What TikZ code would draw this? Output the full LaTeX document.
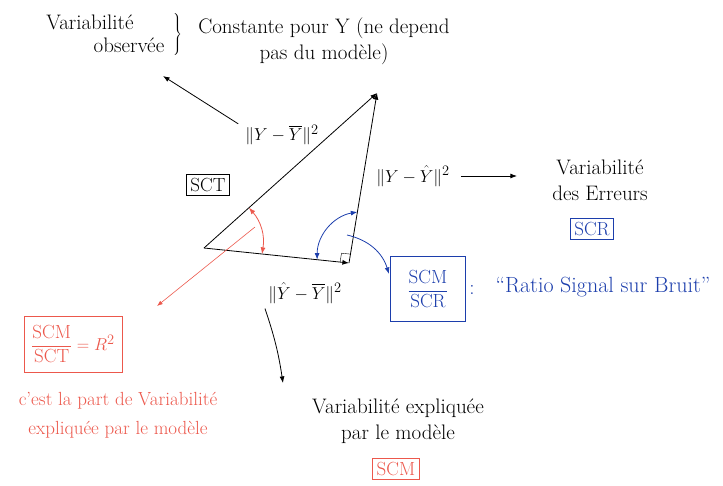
\documentclass[tikz,border=0pt]{standalone}
\usepackage{amsmath,amssymb}
\usepackage{tikz}
\usepackage{xcolor}
\usetikzlibrary{arrows.meta,positioning,calc}
\definecolor{penred}{RGB}{236,88,76}
\definecolor{penblue}{RGB}{28,62,172}

\begin{document}
\begin{tikzpicture}[
  x=1pt, y=-1pt,
  note/.style={font=\fontsize{21}{26}\selectfont, align=center, inner sep=1pt},
  small note/.style={note, font=\fontsize{19}{29}\selectfont},
  formula/.style={font=\fontsize{19}{23}\selectfont, inner sep=1pt},
  tag/.style={draw, thick, font=\fontsize{19}{23}\selectfont, inner sep=4pt},
  arrow/.style={-Latex, thick},
  twoway/.style={Latex-Latex, thick}
]
\useasboundingbox (0,0) rectangle (723,485);
% triangle of the three vectors
\coordinate (L) at (204,248);
\coordinate (T) at (377,93);
\coordinate (R) at (349,263);
\draw[arrow] (L) -- (T);
\draw[arrow] (L) -- (R);
\draw[arrow] (R) -- (T);
\draw[thin] ($(R)!9pt!(L)$) -- ($($(R)!9pt!(L)$)+($(R)!9pt!(T)$)-(R)$) -- ($(R)!9pt!(T)$);

% labels of the sides
\node[formula] (tot) at (282,135) {$\|Y-\overline{Y}\|^2$};
\node[tag] (sct) at (208,185) {SCT};
\node[formula] (res) at (413,176) {$\|Y-\hat{Y}\|^2$};
\node[formula] (mod) at (305,293) {$\|\hat{Y}-\overline{Y}\|^2$};

% top texts
\node[note] (obs) at (90,22) {Variabilité};
\node[note] (obs2) at (129,45) {observée};
\node[inner sep=0pt] (brace) at (177,35) {$\left.\vrule width 0pt height 19pt depth 19pt\right\}$};
\node[note] (const) at (324,41) {Constante pour Y (ne depend\\pas du modèle)};
\coordinate (obsend) at (163,76);
\draw[arrow] ([xshift=-6pt]tot.north west) -- (obsend);

% errors
\node[note] (err) at (600,180) {Variabilité\\des Erreurs};
\node[tag, penblue] (scr) at (592,229) {SCR};
\coordinate (resend) at (517,176);
\draw[arrow] ([xshift=10pt]res.east) -- (resend);

% ratio signal / noise
\node[tag, penblue, minimum width=75pt, minimum height=65pt] (snr) at (428,289)
  {$\dfrac{\text{SCM}}{\text{SCR}}$};
\node[note, penblue] (colon) at (472,290) {:};
\node[note, penblue, font=\fontsize{22}{26}\selectfont] (snrtxt) at (603,287) {``Ratio Signal sur Bruit''};
\coordinate (b1) at ($(R)!0.22!(L)$);
\coordinate (b2) at ($(R)!0.3!(T)$);
\draw[twoway, penblue] (b1) to[bend left=40] (b2);
\coordinate (bs) at (347,235);
\coordinate (be) at (389,274);
\draw[arrow, penblue] (bs) to[bend left=30] (be);

% explained part
\coordinate (a1) at ($(L)!0.26!(T)$);
\coordinate (a2) at ($(L)!0.4!(R)$);
\draw[twoway, penred] (a1) to[bend left=25] (a2);
\node[tag, penred, minimum width=98pt, minimum height=56pt] (rsq) at (73,344)
  {$\dfrac{\text{SCM}}{\text{SCT}}=R^2$};
\coordinate (rs) at (255,227);
\coordinate (re) at (157,306);
\draw[arrow, penred, semithick] (rs) -- (re);
\node[small note, penred] (part) at (118,415) {c'est la part de Variabilité\\expliquée par le modèle};

\node[note] (expl) at (398,421) {Variabilité expliquée\\par le modèle};
\node[tag, penred] (scm) at (396,469) {SCM};
\coordinate (me) at (283,383);
\draw[arrow] ([xshift=-40pt,yshift=-4pt]mod.south) to[bend left=5] (me);
\end{tikzpicture}
\end{document}
